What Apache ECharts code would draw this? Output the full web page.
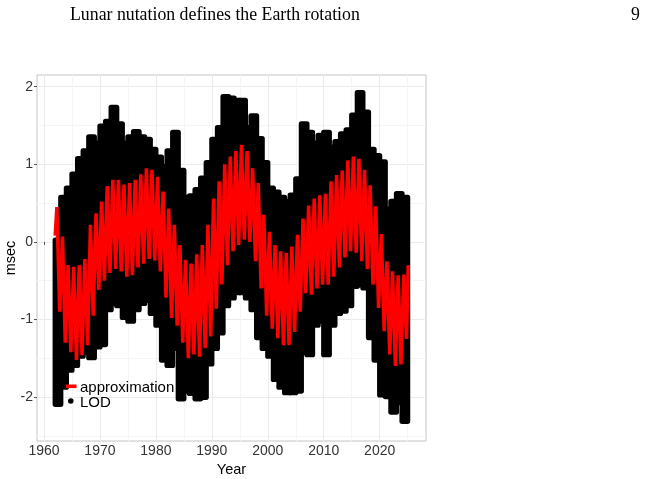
<!DOCTYPE html>
<html lang="en">
<head>
  <meta charset="UTF-8">
  <title>Lunar nutation defines the Earth rotation</title>
  <script src="https://cdn.jsdelivr.net/npm/echarts@6.0.0/dist/echarts.min.js"></script>
  <style>
    html, body { margin: 0; padding: 0; background: #fff; }
    #chart { width: 647px; height: 479px; }
  </style>
</head>
<body>
  <div id="chart"></div>
  <script>
    // one entry per year, values in msec
    const years = [
      1962, 1963, 1964, 1965, 1966, 1967, 1968, 1969, 1970, 1971,
      1972, 1973, 1974, 1975, 1976, 1977, 1978, 1979, 1980, 1981,
      1982, 1983, 1984, 1985, 1986, 1987, 1988, 1989, 1990, 1991,
      1992, 1993, 1994, 1995, 1996, 1997, 1998, 1999, 2000, 2001,
      2002, 2003, 2004, 2005, 2006, 2007, 2008, 2009, 2010, 2011,
      2012, 2013, 2014, 2015, 2016, 2017, 2018, 2019, 2020, 2021,
      2022, 2023, 2024
    ];
    // approximation: annual maximum and following minimum
    const approxPeak = [
      0.45, 0.07, -0.30, -0.32, -0.30, -0.22, 0.22, 0.37, 0.52, 0.72,
      0.80, 0.80, 0.74, 0.76, 0.80, 0.87, 0.95, 0.93, 0.84, 0.65,
      0.43, 0.22, -0.04, -0.23, -0.28, -0.16, -0.04, 0.22, 0.56, 0.78,
      1.00, 1.10, 1.17, 1.25, 1.17, 0.95, 0.76, 0.35, 0.13, -0.04,
      -0.12, -0.14, -0.06, 0.09, 0.30, 0.47, 0.56, 0.60, 0.62, 0.78,
      0.86, 0.92, 1.05, 1.10, 1.07, 0.93, 0.73, 0.46, 0.10, -0.25,
      -0.38, -0.43, -0.42
    ];
    const approxTrough = [
      -0.90, -1.30, -1.42, -1.52, -1.46, -1.33, -0.95, -0.62, -0.50, -0.40,
      -0.35, -0.38, -0.45, -0.43, -0.33, -0.28, -0.22, -0.24, -0.38, -0.72,
      -0.98, -1.08, -1.30, -1.50, -1.45, -1.48, -1.37, -1.22, -0.86, -0.55,
      -0.30, -0.12, -0.04, 0.03, 0.00, -0.25, -0.60, -0.95, -1.12, -1.24,
      -1.33, -1.33, -1.16, -0.90, -0.66, -0.68, -0.60, -0.55, -0.55, -0.45,
      -0.33, -0.20, -0.12, -0.14, -0.25, -0.35, -0.55, -0.85, -1.15, -1.45,
      -1.60, -1.58, -1.25
    ];
    const approxStart = [1962.0, 0.08];
    const approxEnd = [2025.1, -0.30];
    // LOD: highest and lowest daily value in each year
    const lodTop = [
      0.05, 0.60, 0.72, 0.90, 1.10, 1.20, 1.38, 1.30, 1.52, 1.58,
      1.76, 1.55, 1.30, 1.38, 1.45, 1.38, 1.35, 1.22, 1.12, 1.00,
      1.20, 1.44, 0.95, 0.60, 0.62, 0.70, 0.85, 1.05, 1.35, 1.50,
      1.90, 1.88, 1.85, 1.85, 1.50, 1.65, 1.36, 1.05, 0.72, 0.67,
      0.60, 0.55, 0.63, 0.84, 1.55, 1.44, 1.30, 1.40, 1.44, 1.25,
      1.32, 1.42, 1.47, 1.66, 1.95, 1.70, 1.22, 1.14, 1.06, 0.45,
      0.55, 0.65, 0.60
    ];
    const lodBottom = [
      -2.12, -1.90, -1.68, -1.62, -1.50, -1.45, -1.52, -1.38, -1.35, -0.90,
      -0.82, -0.85, -1.00, -1.05, -0.90, -0.82, -0.78, -0.95, -1.10, -1.55,
      -1.62, -1.40, -2.05, -1.95, -1.98, -2.05, -2.03, -1.60, -1.40, -1.20,
      -0.85, -0.75, -0.68, -0.68, -0.75, -0.90, -1.26, -1.40, -1.50, -1.80,
      -1.90, -1.97, -1.97, -1.95, -1.45, -1.48, -1.10, -1.05, -1.48, -1.10,
      -0.95, -0.92, -0.85, -0.60, -0.58, -0.62, -1.26, -1.55, -2.00, -2.02,
      -2.22, -2.10, -2.34
    ];
    const xMajor = [1960, 1970, 1980, 1990, 2000, 2010, 2020];
    const xMinor = [1965, 1975, 1985, 1995, 2005, 2015, 2025];
    const yMajor = [-2, -1, 0, 1, 2];
    const yMinor = [-2.5, -1.5, -0.5, 0.5, 1.5];

    const xMin = 1958.75, xMax = 2028.28;
    const yMin = -2.566, yMax = 2.151;

    // line points: start, then peak/trough for each year
    const approxData = [approxStart];
    years.forEach(function (y, i) {
      approxData.push([y + 0.3, approxPeak[i]]);
      approxData.push([y + 0.8, approxTrough[i]]);
    });
    approxData.push(approxEnd);

    const lodData = years.map(function (y, i) { return [y, lodBottom[i], lodTop[i]]; });

    const font = '"Liberation Sans", Arial, sans-serif';

    function renderLod(params, api) {
      const yr = api.value(0);
      const pTop = api.coord([yr, api.value(2)]);
      const pBot = api.coord([yr + 1, api.value(1)]);
      const pad = 2.6;
      const x0 = pTop[0] - pad;
      return {
        type: 'rect',
        shape: { x: x0, y: pTop[1] - 0.5, width: pBot[0] + pad - x0, height: pBot[1] - pTop[1] + 1, r: pad },
        style: { fill: '#000' }
      };
    }

    const chart = echarts.init(document.getElementById('chart'));
    chart.setOption({
      animation: false,
      textStyle: { fontFamily: font },
      graphic: [
        { type: 'text', left: 70, top: 6, style: { text: 'Lunar nutation defines the Earth rotation', font: '17.8px "Liberation Serif", serif', fill: '#000' } },
        { type: 'text', right: 7, top: 6, style: { text: '9', font: '17.8px "Liberation Serif", serif', fill: '#000' } },
        // legend box inside the panel
        { type: 'rect', shape: { x: 66, y: 384.5, width: 10.5, height: 3.6 }, style: { fill: '#ff0000' }, z: 10 },
        { type: 'circle', shape: { cx: 70.8, cy: 401, r: 2.8 }, style: { fill: '#000' }, z: 10 },
        { type: 'text', x: 80, y: 387.5, style: { text: 'approximation', font: '15px "Liberation Sans", Arial, sans-serif', fill: '#000', verticalAlign: 'middle' }, z: 10 },
        { type: 'text', x: 80, y: 402.5, style: { text: 'LOD', font: '15px "Liberation Sans", Arial, sans-serif', fill: '#000', verticalAlign: 'middle' }, z: 10 }
      ],
      grid: {
        left: 37, top: 75, width: 389, height: 366, outerBoundsMode: 'none',
        show: true, borderColor: '#c4c4c4', borderWidth: 1
      },
      xAxis: [
        {
          type: 'value', min: xMin, max: xMax,
          name: 'Year', nameLocation: 'middle', nameGap: 18,
          nameTextStyle: { fontSize: 14.5, color: '#000' },
          axisLine: { show: false },
          axisTick: { show: true, length: 3, lineStyle: { color: '#555' }, customValues: xMajor },
          axisLabel: { customValues: xMajor, margin: 3, fontSize: 14, color: '#333', formatter: function (v) { return String(v); } },
          splitLine: { show: true, lineStyle: { color: '#ebebeb', width: 1 } }
        },
        {
          type: 'value', min: xMin, max: xMax,
          axisLine: { show: false },
          axisTick: { show: false, customValues: xMinor },
          axisLabel: { show: false },
          splitLine: { show: true, lineStyle: { color: '#f5f5f5', width: 1 } }
        }
      ],
      yAxis: [
        {
          type: 'value', min: yMin, max: yMax,
          name: 'msec', nameLocation: 'middle', nameGap: 19, nameMoveOverlap: false,
          nameTextStyle: { fontSize: 14.5, color: '#000' },
          axisLine: { show: false },
          axisTick: { show: true, length: 3, lineStyle: { color: '#555' }, customValues: yMajor },
          axisLabel: { customValues: yMajor, margin: 4, fontSize: 14, color: '#333' },
          splitLine: { show: true, lineStyle: { color: '#ebebeb', width: 1 } }
        },
        {
          type: 'value', min: yMin, max: yMax,
          axisLine: { show: false },
          axisTick: { show: false, customValues: yMinor },
          axisLabel: { show: false },
          splitLine: { show: true, lineStyle: { color: '#f5f5f5', width: 1 } }
        }
      ],
      series: [
        {
          name: 'LOD', type: 'custom', xAxisIndex: 0, yAxisIndex: 0,
          renderItem: renderLod, data: lodData,
          encode: { x: 0, y: [1, 2] },
          itemStyle: { color: '#000' }, z: 2
        },
        {
          name: 'approximation', type: 'line', xAxisIndex: 0, yAxisIndex: 0,
          data: approxData, showSymbol: false, symbol: 'none',
          color: '#ff0000',
          lineStyle: { color: '#ff0000', width: 3.5, join: 'bevel' }, z: 3
        }
      ]
    });
  </script>
</body>
</html>
